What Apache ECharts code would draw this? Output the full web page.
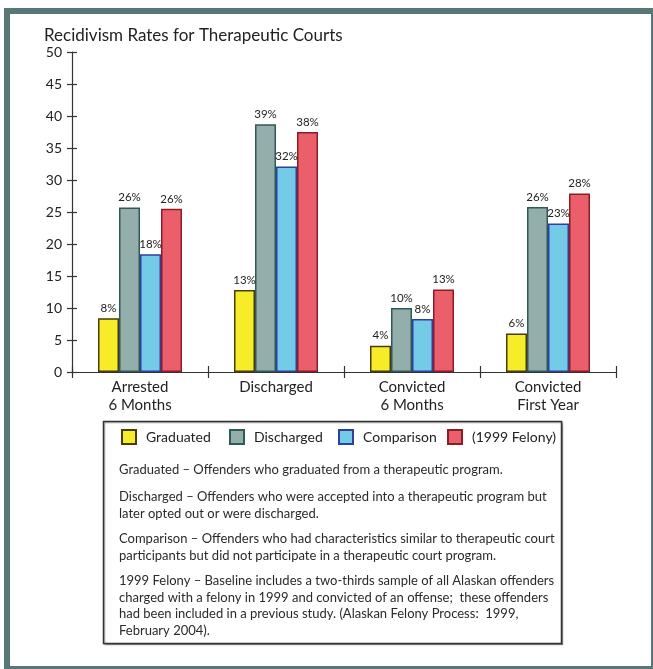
<!DOCTYPE html>
<html>
<head>
<meta charset="utf-8">
<script src="https://cdn.jsdelivr.net/npm/echarts@6/dist/echarts.min.js"></script>
<style>
html,body{margin:0;padding:0;background:#fff;}
#chart{width:653px;height:669px;}
</style>
</head>
<body>
<div id="chart"></div>
<script>
var categories = ['Arrested\n6 Months', 'Discharged', 'Convicted\n6 Months', 'Convicted\nFirst Year'];
var seriesNames = ['Graduated', 'Discharged', 'Comparison', '(1999 Felony)'];
var graduated = [8.4, 12.8, 4.1, 6.0];
var discharged = [25.7, 38.7, 10.0, 25.8];
var comparison = [18.4, 32.1, 8.3, 23.2];
var felony = [25.5, 37.5, 12.9, 27.9];
var yTicks = {min: 0, max: 50, interval: 5};
var titleText = 'Recidivism Rates for Therapeutic Courts';
var notes = [
  'Graduated \u2013 Offenders who graduated from a therapeutic program.',
  'Discharged \u2013 Offenders who were accepted into a therapeutic program but\nlater opted out or were discharged.',
  'Comparison \u2013 Offenders who had characteristics similar to therapeutic court\nparticipants but did not participate in a therapeutic court program.',
  '1999 Felony \u2013 Baseline includes a two-thirds sample of all Alaskan offenders\ncharged with a felony in 1999 and convicted of an offense;  these offenders\nhad been included in a previous study. (Alaskan Felony Process:  1999,\nFebruary 2004).'
];

var FONT = 'Lato, "Open Sans", sans-serif';
var fills = ['#f7ec28', '#94aeac', '#74cbe8', '#ea5f6a'];
var borders = ['#4a3a12', '#2e5a57', '#2f3f9e', '#8e1c26'];
var allData = [graduated, discharged, comparison, felony];
var legendLefts = [121, 229, 338, 447];

var chart = echarts.init(document.getElementById('chart'), null, {renderer: 'canvas'});

var series = allData.map(function (d, i) {
  return {
    name: seriesNames[i],
    type: 'bar',
    data: d,
    barWidth: 21,
    barGap: '0%',
    itemStyle: {color: fills[i], borderColor: borders[i], borderWidth: 1.5},
    label: {
      show: true, position: 'top', distance: 4,
      fontFamily: FONT, fontSize: 11.5, color: '#222',
      formatter: function (p) { return Math.round(p.value) + '%'; }
    }
  };
});

var legends = seriesNames.map(function (n, i) {
  return {
    left: legendLefts[i], top: 429, padding: 0, itemWidth: 14, itemHeight: 14, icon: 'rect',
    textStyle: {fontFamily: FONT, fontSize: 14, color: '#222', padding: [0, 0, 0, 5]},
    data: [n]
  };
});

var noteTops = [462, 489, 531, 573];
var graphics = [
  {type: 'rect', shape: {x: 7, y: 11, width: 647, height: 658}, style: {fill: 'none', stroke: '#587878', lineWidth: 6}, z: 100},
  {type: 'rect', shape: {x: 103.5, y: 421.5, width: 458, height: 222}, style: {fill: '#fff', stroke: '#333', lineWidth: 1.5, shadowColor: 'rgba(0,0,0,0.3)', shadowOffsetX: 1, shadowOffsetY: 1, shadowBlur: 1}, z: -1}
];
notes.forEach(function (t, i) {
  graphics.push({type: 'text', left: 119, top: noteTops[i], style: {text: t, fontFamily: FONT, fontSize: 13, lineHeight: 16.5, fill: '#2a2a2a'}, z: 10});
});

chart.setOption({
  animation: false,
  backgroundColor: '#fff',
  title: {text: titleText, left: 39, top: 22, textStyle: {fontFamily: FONT, fontSize: 17, fontWeight: 'normal', color: '#222'}},
  legend: legends,
  grid: {left: 72, right: 37, top: 52, bottom: 297},
  xAxis: [{
    type: 'category', data: categories, boundaryGap: true,
    axisLine: {lineStyle: {color: '#333', width: 1.2}},
    axisTick: {show: true, length: 6, lineStyle: {color: '#333', width: 1.2}},
    axisLabel: {fontFamily: FONT, fontSize: 15, color: '#222', lineHeight: 18, margin: 6, interval: 0}
  }, {
    type: 'category', data: categories, boundaryGap: true, position: 'bottom',
    axisLine: {show: false},
    axisTick: {show: true, inside: true, length: 6, lineStyle: {color: '#333', width: 1.2}},
    axisLabel: {show: false}
  }],
  yAxis: [{
    type: 'value', min: yTicks.min, max: yTicks.max, interval: yTicks.interval,
    axisLine: {show: true, lineStyle: {color: '#333', width: 1.2}},
    axisTick: {show: true, length: 5, lineStyle: {color: '#333', width: 1.2}},
    axisLabel: {fontFamily: FONT, fontSize: 14, color: '#222', margin: 10},
    splitLine: {show: false}
  }, {
    type: 'value', min: yTicks.min, max: yTicks.max, interval: yTicks.interval, position: 'left',
    axisLine: {show: false},
    axisTick: {show: true, inside: true, length: 5, lineStyle: {color: '#333', width: 1.2}},
    axisLabel: {show: false},
    splitLine: {show: false}
  }],
  series: series,
  graphic: graphics
});
</script>
</body>
</html>
